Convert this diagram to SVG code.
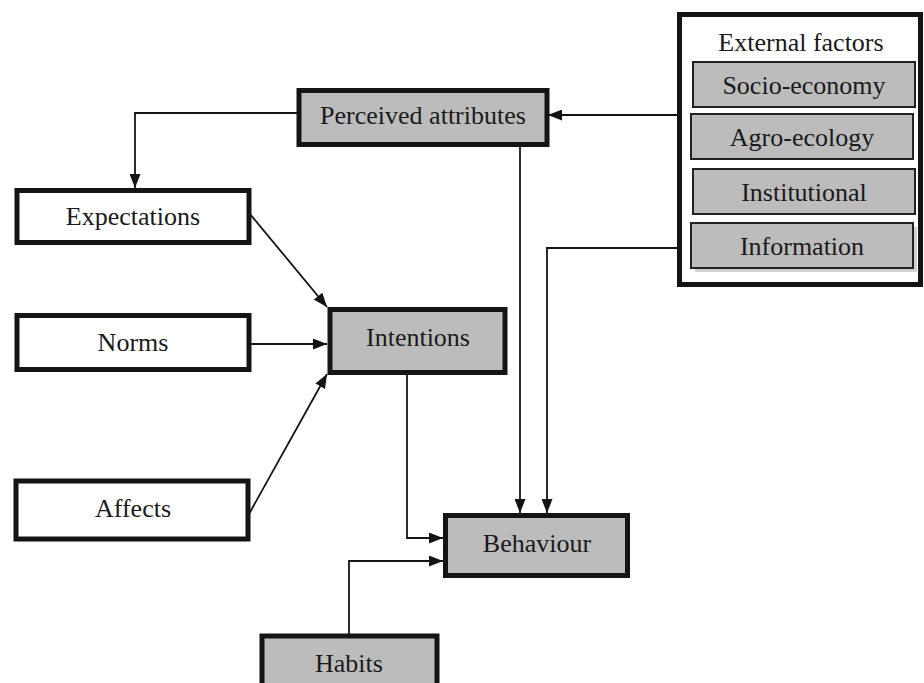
<svg xmlns="http://www.w3.org/2000/svg" width="924" height="683" viewBox="0 0 924 683">
<defs>
<style>
text{font-family:"Liberation Serif","Times New Roman",serif;font-size:26px;fill:#1a1a1a;text-anchor:middle;dominant-baseline:central}
.box{stroke:#141414;stroke-width:5}
.w{fill:#fff}
.g{fill:#bcbcbc}
.inner{fill:#bcbcbc;stroke:#222;stroke-width:2}
.c{fill:none;stroke:#141414;stroke-width:1.8}
</style>
<marker id="ah" viewBox="0 0 14 11" refX="14" refY="5.5" markerWidth="14" markerHeight="11" markerUnits="userSpaceOnUse" orient="auto">
<path d="M0,0 L14,5.5 L0,11 Z" fill="#141414"/>
</marker>
</defs>
<rect width="924" height="683" fill="#fff"/>
<g id="connectors">
<path class="c" d="M679,115 H548" marker-end="url(#ah)"/>
<path class="c" d="M298,113 H135 V188" marker-end="url(#ah)"/>
<path class="c" d="M520,146 V513" marker-end="url(#ah)"/>
<path class="c" d="M679,248 H547 V513" marker-end="url(#ah)"/>
<path class="c" d="M250,214 L327,307" marker-end="url(#ah)"/>
<path class="c" d="M250,344 H327" marker-end="url(#ah)"/>
<path class="c" d="M249,514 L327,374" marker-end="url(#ah)"/>
<path class="c" d="M407,375 V538 H443" marker-end="url(#ah)"/>
<path class="c" d="M349,634 V561 H443" marker-end="url(#ah)"/>
</g>
<g id="external">
<rect class="box w" x="679.5" y="14.5" width="241" height="270"/>
<text x="801" y="42">External factors</text>
<rect class="inner" x="693" y="62" width="222" height="45"/>
<text x="804" y="85">Socio-economy</text>
<rect class="inner" x="691" y="114" width="222" height="45"/>
<text x="802" y="137">Agro-ecology</text>
<rect class="inner" x="693" y="169" width="222" height="45"/>
<text x="804" y="192">Institutional</text>
<rect x="695" y="227" width="222" height="45" fill="#d0d0d0"/>
<rect class="inner" x="691" y="223" width="222" height="45"/>
<text x="802" y="246">Information</text>
</g>
<g id="perceived"><rect class="box g" x="299" y="90.5" width="248" height="54"/><text x="423" y="115">Perceived attributes</text></g>
<g id="expectations"><rect class="box w" x="17" y="190.5" width="232" height="52"/><text x="133" y="216">Expectations</text></g>
<g id="norms"><rect class="box w" x="17" y="315.5" width="232" height="54"/><text x="133" y="342">Norms</text></g>
<g id="intentions"><rect class="box g" x="330" y="309.5" width="175" height="63"/><text x="418" y="337">Intentions</text></g>
<g id="affects"><rect class="box w" x="16" y="481" width="232" height="58"/><text x="133" y="508">Affects</text></g>
<g id="behaviour"><rect class="box g" x="445.5" y="515.5" width="182" height="60"/><text x="537" y="543">Behaviour</text></g>
<g id="habits"><rect class="box g" x="262" y="636" width="175" height="60"/><text x="349" y="663">Habits</text></g>
</svg>
